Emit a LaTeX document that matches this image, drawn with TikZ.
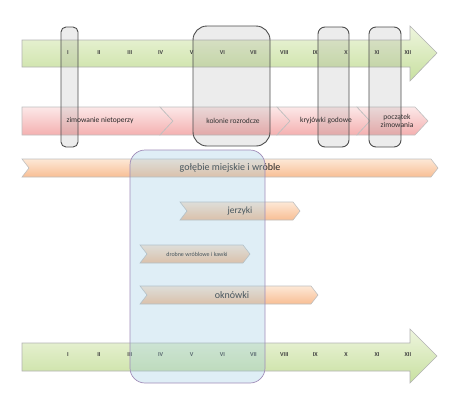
\documentclass[tikz,border=0pt]{standalone}
\usepackage{fontspec}
\setmainfont{Carlito}
\usetikzlibrary{positioning,calc}

\definecolor{greenhi}{RGB}{238,245,222}
\definecolor{greenlo}{RGB}{200,224,160}
\definecolor{pinkhi}{RGB}{252,232,232}
\definecolor{pinklo}{RGB}{244,176,176}
\definecolor{orangehi}{RGB}{253,232,214}
\definecolor{orangelo}{RGB}{248,190,148}
\definecolor{nestblue}{RGB}{150,200,225}
\definecolor{nestedge}{RGB}{160,140,184}

\begin{document}
\begin{tikzpicture}[
x=1pt,y=-1pt,
month/.style={font=\fontsize{6}{7}\selectfont\bfseries,text=black!75},
timeline/.style={draw=black!30,top color=greenhi,bottom color=greenlo,line width=0.6pt},
phase/.style={draw=black!25,top color=pinkhi,bottom color=pinklo,line width=0.6pt},
phaselabel/.style={font=\fontsize{7.5}{8}\selectfont,text=black!85,align=center},
bird/.style={draw=black!25,top color=orangehi,bottom color=orangelo,line width=0.6pt},
birdlabel/.style={text=black!85},
season/.style={draw=black!70,fill=gray,fill opacity=0.15,line width=0.9pt},
nest/.style={draw=nestedge,fill=nestblue,fill opacity=0.3,line width=0.7pt,rounded corners=15pt}
]
\useasboundingbox (0,0) rectangle (465,413);

% top timeline
\draw[timeline] (22,40) -- (410,40) -- (410,26) -- (437,53) -- (410,81)
  -- (410,67) -- (22,67) -- cycle;
\foreach \m [count=\i] in {I,II,III,IV,V,VI,VII,VIII,IX,X,XI,XII}
  \node[month] (top\i) at ({68+30.9*(\i-1)},53) {\m};

% bat phases
\draw[phase] (22,107) -- (160,107) -- (173,121) -- (160,135) -- (22,135) -- cycle;
\draw[phase] (160,107) -- (277,107) -- (290,121) -- (277,135) -- (160,135) -- (173,121) -- cycle;
\draw[phase] (277,107) -- (357,107) -- (370,121) -- (357,135) -- (277,135) -- (290,121) -- cycle;
\draw[phase] (357,107) -- (415,107) -- (428,121) -- (415,135) -- (357,135) -- (370,121) -- cycle;
\node[phaselabel] (hib) at (100,121) {zimowanie nietoperzy};
\node[phaselabel] (col) at (233,121) {kolonie rozrodcze};
\node[phaselabel] (mat) at (326,121) {kryjówki godowe};
\node[phaselabel] (start) at (397,121) {początek\\zimowania};

% seasons
\draw[season,rounded corners=5pt] (61,27) rectangle (78,147);
\draw[season,rounded corners=14pt] (193,26) rectangle (270,146);
\draw[season,rounded corners=7pt] (318,27) rectangle (349,147);
\draw[season,rounded corners=7pt] (369,27) rectangle (401,147);

% birds
\draw[bird] (22,159) -- (431,159) -- (438,168) -- (431,177) -- (22,177) -- (29,168) -- cycle;
\node[birdlabel,font=\fontsize{10}{11}\selectfont] (pigeons) at (230,168) {gołębie miejskie i wróble};
\draw[bird] (180,202) -- (293,202) -- (300,211) -- (293,220) -- (180,220) -- (187,211) -- cycle;
\node[birdlabel,font=\fontsize{9.5}{10}\selectfont] (swifts) at (240,211) {jerzyki};
\draw[bird] (140,245) -- (243,245) -- (250,254) -- (243,263) -- (140,263) -- (147,254) -- cycle;
\node[birdlabel,font=\fontsize{6}{7}\selectfont] (jackdaws) at (197,254) {drobne wróblowe i kawki};
\draw[bird] (140,286) -- (311,286) -- (318,295) -- (311,304) -- (140,304) -- (147,295) -- cycle;
\node[birdlabel,font=\fontsize{10}{11}\selectfont] (martins) at (232,295) {oknówki};

% bottom timeline
\draw[timeline] (22,343) -- (410,343) -- (410,329) -- (437,356) -- (410,383)
  -- (410,371) -- (22,371) -- cycle;
\foreach \m [count=\i] in {I,II,III,IV,V,VI,VII,VIII,IX,X,XI,XII}
  \node[month] (bot\i) at ({68+30.9*(\i-1)},355) {\m};

% nesting season
\draw[nest] (130,150) rectangle (265,383);

\end{tikzpicture}
\end{document}
